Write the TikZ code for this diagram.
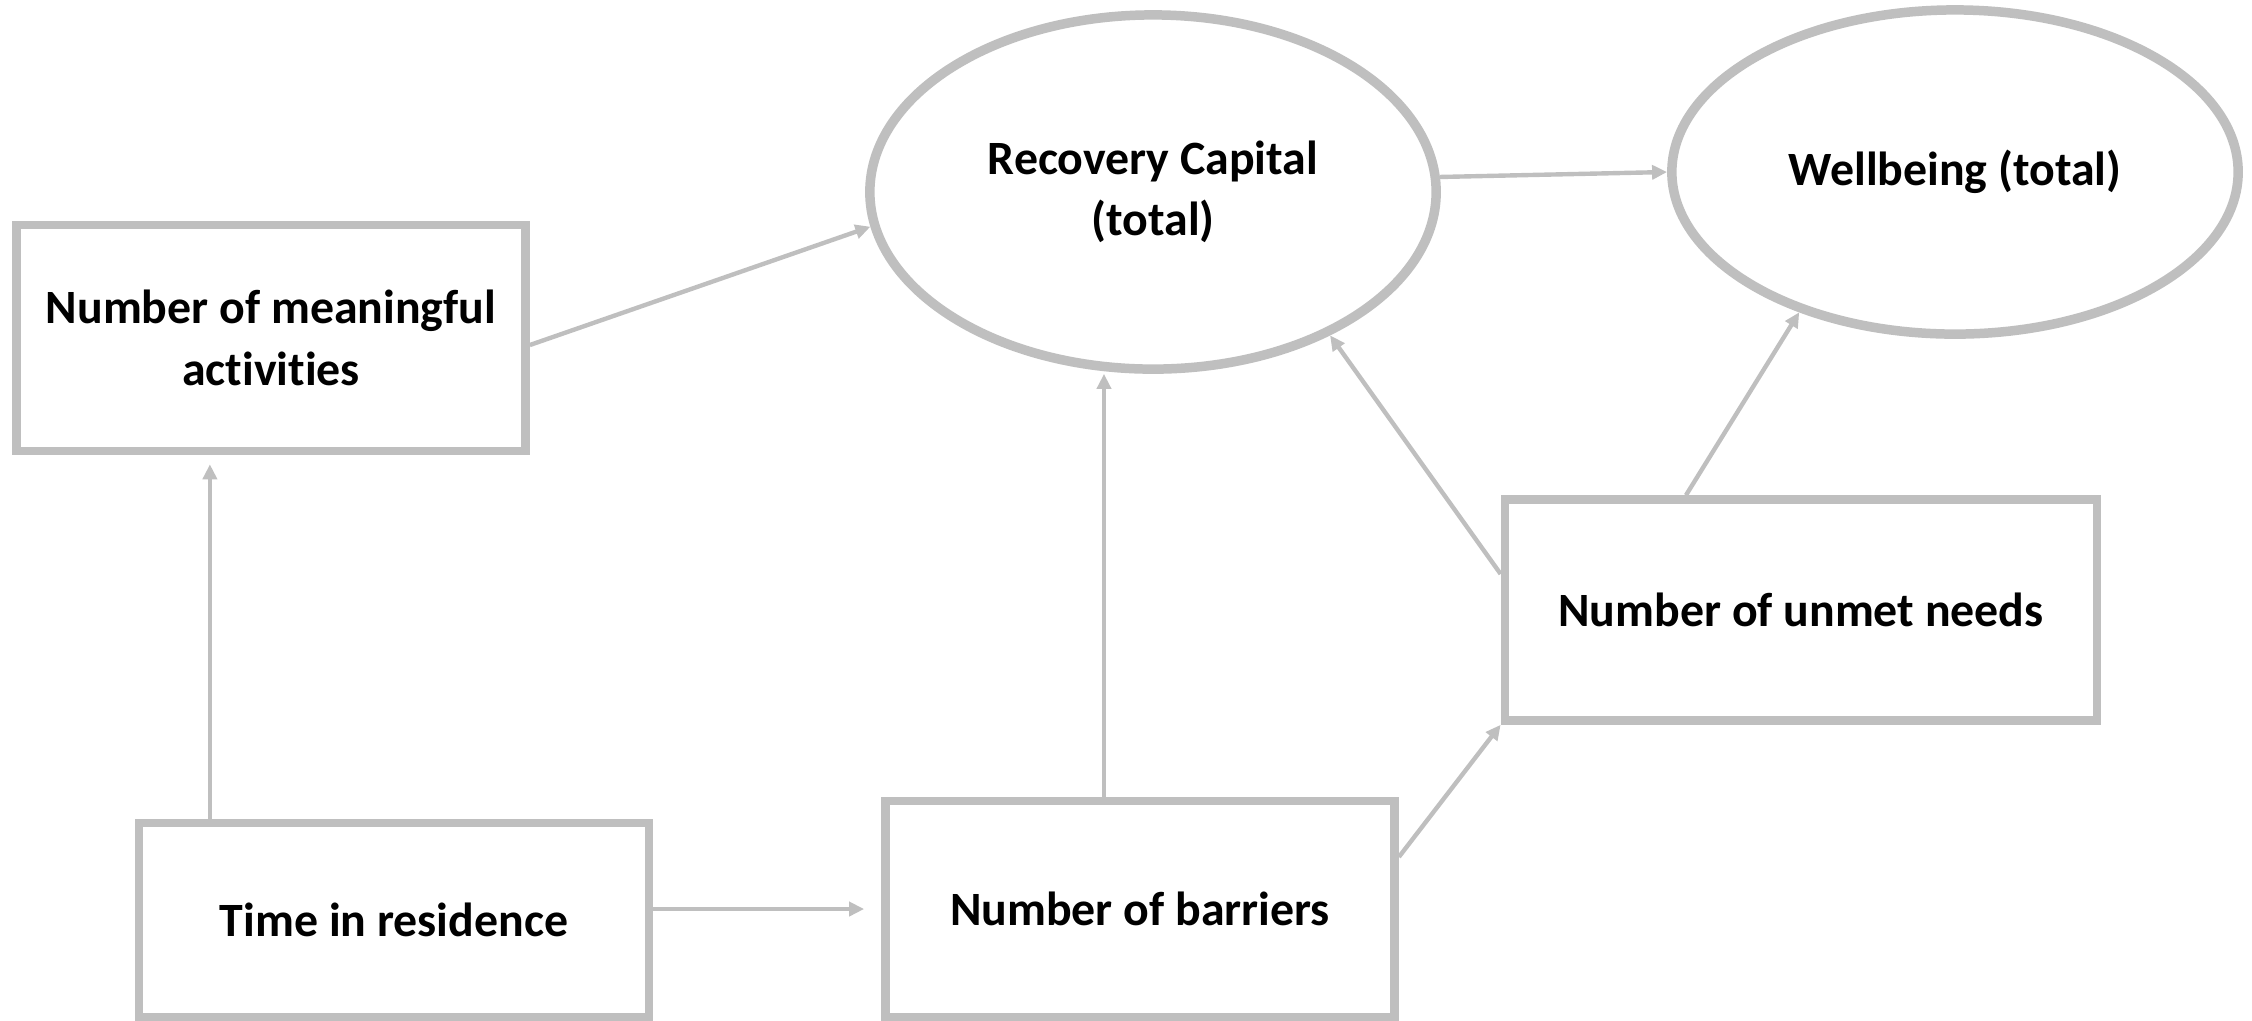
\documentclass[tikz,border=0pt]{standalone}
\usepackage{fontspec}
\setmainfont[Ligatures=NoCommon]{Carlito}
\usetikzlibrary{shapes.geometric,arrows.meta}
\definecolor{gr}{HTML}{BFBFBF}
\newcommand{\nolig}{\kern0pt{}}
\begin{document}
\begin{tikzpicture}[x=0.01cm,y=-0.01cm,
  lbl/.style={font=\fontsize{13.6}{17.5}\selectfont\bfseries, align=center, text=black},
  box/.style={lbl, draw=gr, line width=2.4pt, fill=white, rectangle, inner sep=0pt},
  ell/.style={lbl, draw=gr, line width=2.7pt, fill=white, ellipse, inner sep=0pt},
  arr/.style={draw=gr, line width=1.25pt, -{Triangle[width=0.14cm,length=0.15cm]}}]
\useasboundingbox (0,0) rectangle (2252,1020);

\node[box, minimum width=5.09cm, minimum height=2.26cm] (A) at (271,338) {Number of meaningful\\act\nolig ivit\nolig ies};
\node[box, minimum width=5.10cm, minimum height=1.94cm] (T) at (394,920) {Time in residence};
\node[box, minimum width=5.09cm, minimum height=2.16cm] (B) at (1140,909) {Number of barriers};
\node[box, minimum width=5.92cm, minimum height=2.21cm] (U) at (1801,610) {Number of unmet needs};
\node[ell, minimum width=5.66cm, minimum height=3.54cm] (R) at (1153,192) {Recovery Capital\\(total)};
\node[ell, minimum width=5.66cm, minimum height=3.24cm] (W) at (1955,172) {Wellbeing (total)};

\draw[arr, shorten >=0.09cm] ([xshift=-1.84cm]T.north) -- ([xshift=-1.84cm]T.north |- A.south);
\draw[arr] ([yshift=-0.07cm]A.east) -- (R.187);
\draw[arr, shorten >=0.17cm] (T.east |- B.west) -- (B.west);
\draw[arr] ([xshift=-0.36cm]B.north) -- ([xshift=-0.36cm]B.north |- R.south);
\draw[arr] ([yshift=0.52cm]B.east) -- (U.south west);
\draw[arr] ([yshift=0.36cm]U.west) -- (R.-39);
\draw[arr] ([xshift=-1.15cm]U.north) -- (W.222);
\draw[arr] (R.3) -- (W.west);
\end{tikzpicture}
\end{document}
